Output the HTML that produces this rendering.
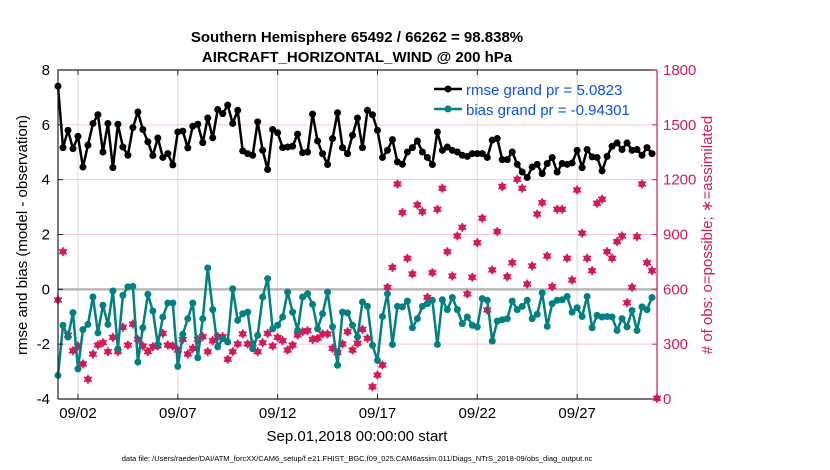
<!DOCTYPE html>
<html><head><meta charset="utf-8"><style>
body{margin:0;background:#fff;}
svg{font-family:"Liberation Sans",sans-serif;display:block;}
</style></head><body>
<svg id="chart" width="830" height="470" viewBox="0 0 830 470" xmlns="http://www.w3.org/2000/svg">
<rect width="830" height="470" fill="#fff"/>
<text x="357" y="42" text-anchor="middle" font-size="15" font-weight="bold">Southern Hemisphere 65492 / 66262 = 98.838%</text>
<text x="357" y="62" text-anchor="middle" font-size="15" font-weight="bold">AIRCRAFT_HORIZONTAL_WIND @ 200 hPa</text>
<g id="grid"></g><g id="marks"></g><g id="axes"></g>
<text transform="translate(27,235) rotate(-90)" text-anchor="middle" font-size="15">rmse and bias (model - observation)</text>
<text transform="translate(712,235) rotate(-90)" text-anchor="middle" font-size="15" fill="#d6195a"># of obs: o=possible; ∗=assimilated</text>
<text x="357" y="441" text-anchor="middle" font-size="15">Sep.01,2018 00:00:00 start</text>
<text x="357" y="461" text-anchor="middle" font-size="7.5">data file: /Users/raeder/DAI/ATM_forcXX/CAM6_setup/f.e21.FHIST_BGC.f09_025.CAM6assim.011/Diags_NTrS_2018-09/obs_diag_output.nc</text>
<g>
<line x1="434" y1="89" x2="462" y2="89" stroke="#000" stroke-width="2.5"/><circle cx="448" cy="89" r="3.5" fill="#000"/>
<text x="466" y="95" font-size="15" fill="#0a50f0">rmse grand pr = 5.0823</text>
<line x1="434" y1="109" x2="462" y2="109" stroke="#008080" stroke-width="2.5"/><circle cx="448" cy="109" r="3.5" fill="#008080"/>
<text x="466" y="115" font-size="15" fill="#0a50f0">bias grand pr = -0.94301</text>
</g>
</svg>
<script>
const rmse=[7.41,5.17,5.80,5.13,5.58,4.46,5.26,6.05,6.37,5.01,6.05,4.44,6.02,5.19,4.89,5.90,6.47,5.83,5.38,4.88,5.52,4.81,4.95,4.54,5.74,5.77,5.16,5.95,6.02,5.35,6.25,5.53,6.56,
6.41,6.72,6.05,6.53,5.05,4.95,4.89,6.11,5.07,4.37,5.83,5.71,5.17,5.19,5.22,5.66,4.98,5.01,6.39,5.41,4.95,4.55,5.50,6.44,5.17,4.95,5.62,6.25,5.17,6.53,6.37,5.80,4.81,
5.07,5.46,4.65,4.56,5.01,5.17,5.41,5.01,4.81,4.55,5.74,5.07,5.19,5.07,5.01,4.89,4.85,4.95,4.95,4.95,4.81,5.44,5.50,4.73,4.73,5.01,4.56,4.28,4.08,4.46,4.56,4.22,4.59,
4.81,4.28,4.59,4.56,4.61,5.07,4.44,5.10,4.83,4.81,4.32,4.85,5.22,5.34,5.10,5.34,5.07,5.10,4.89,5.17,4.95];
const bias=[-3.14,-1.31,-1.74,-0.85,-2.90,-1.47,-1.28,-0.28,-1.59,-0.58,-1.28,-0.06,-2.17,-0.22,0.09,0.11,-2.65,-1.40,-0.18,-0.79,-2.01,-1.01,-0.50,-0.50,-2.81,-1.64,-1.07,-0.50,-2.49,-1.07,0.78,-0.74,-2.10,
-1.80,-1.92,0.02,-1.13,-0.89,-0.83,-2.17,-1.68,-0.28,0.39,-1.44,-1.31,-1.01,-0.10,-0.83,-1.50,-0.28,-0.16,-0.55,-1.44,-0.89,-0.10,-1.37,-2.77,-0.83,-0.86,-1.31,-1.74,-0.46,-0.62,-2.04,-2.59,-0.99,
-0.16,-2.01,-0.62,-0.64,-0.43,-1.40,-1.07,-0.62,-0.52,-0.40,-2.01,-0.38,-0.74,-0.30,-0.74,-1.25,-1.01,-1.31,-1.37,-0.34,-0.40,-1.89,-1.16,-1.11,-1.07,-0.43,-0.74,-0.62,-0.40,-1.07,-0.91,-0.13,-1.35,
-0.52,-0.40,-0.38,-0.26,-0.83,-0.67,-0.99,-0.26,-1.40,-0.95,-1.01,-0.99,-1.01,-1.50,-1.07,-1.37,-0.77,-1.50,-0.64,-0.74,-0.30];
const nobs=[542,806,350,264,290,192,108,246,295,308,259,337,259,392,295,410,326,290,259,286,290,359,295,290,268,326,246,277,326,341,259,319,341,
341,217,259,301,356,301,301,259,308,359,290,337,320,268,295,350,368,374,326,332,356,356,277,254,301,368,268,305,381,332,67,131,186,
611,720,1176,1020,770,684,1062,1025,556,691,1038,1153,806,673,892,939,575,666,855,989,487,706,916,1162,669,746,1202,1153,629,728,1012,1074,782,
615,1038,1038,770,651,1144,907,770,702,1071,1093,806,770,861,892,527,611,888,1176,746,702,4];
const leftTicks=[8,6,4,2,0,-2,-4];
const rightTicks=[1800,1500,1200,900,600,300,0];
const dateTicks=[1,6,11,16,21,26];
const dateLabels=['09/02','09/07','09/12','09/17','09/22','09/27'];
const NS='http://www.w3.org/2000/svg';
const X0=58,X1=657,Y0=399,Y1=70;
const xs=d=>X0+(d/30)*(X1-X0);          // d = days since Sep 1 00:00
const yl=v=>Y0-(v+4)/12*(Y0-Y1);
const yr=v=>Y0-v/1800*(Y0-Y1);
function mk(tag,attrs,parent){const e=document.createElementNS(NS,tag);for(const k in attrs)e.setAttribute(k,attrs[k]);parent.appendChild(e);return e;}
const grid=document.getElementById('grid'),marks=document.getElementById('marks'),axes=document.getElementById('axes');
leftTicks.forEach(v=>{if(v!==0&&v!==8&&v!==-4){const l=mk('line',{x1:X0,x2:X1,y1:yl(v),y2:yl(v),stroke:'#f2c8d8','stroke-width':1},grid);

}});
dateTicks.forEach(d=>{const l=mk('line',{x1:xs(d),x2:xs(d),y1:Y1,y2:Y0,stroke:'#d8d8d8','stroke-width':1},grid);

});
const z=mk('line',{x1:X0,x2:X1,y1:yl(0),y2:yl(0),stroke:'#b8b8b8','stroke-width':2.5},grid);


// obs counts
nobs.forEach((v,i)=>{const g=mk('g',{},marks);


const cx=xs(i*0.25),cy=yr(v);
mk('circle',{cx:cx,cy:cy,r:3.3,fill:'#d6195a'},g);
[[0,4.5],[3.9,2.25],[3.9,-2.25]].forEach(([dx,dy])=>mk('line',{x1:cx-dx,y1:cy-dy,x2:cx+dx,y2:cy+dy,stroke:'#d6195a','stroke-width':1.6},g));});
function series(arr,col,name){
const p=mk('polyline',{points:arr.map((v,i)=>xs(i*0.25)+','+yl(v)).join(' '),fill:'none',stroke:col,'stroke-width':2.5,'stroke-linejoin':'round'},marks);


arr.forEach((v,i)=>{const c=mk('circle',{cx:xs(i*0.25),cy:yl(v),r:3.5,fill:col},marks);

});}
series(bias,'#008080','bias');
series(rmse,'#000000','rmse');
// axes
const box=mk('path',{d:`M${X0},${Y0}V${Y1}H${X1}`,fill:'none',stroke:'#222','stroke-width':1.2},axes);


const bx=mk('line',{x1:X0,x2:X1,y1:Y0,y2:Y0,stroke:'#222','stroke-width':1.2},axes);


const ra=mk('line',{x1:X1,x2:X1,y1:Y1,y2:Y0,stroke:'#d6195a','stroke-width':1.2},axes);


leftTicks.forEach(v=>{mk('line',{x1:X0,x2:X0+5,y1:yl(v),y2:yl(v),stroke:'#222'},axes);
const t=mk('text',{x:X0-8,y:yl(v)+5,'text-anchor':'end','font-size':15},axes);t.textContent=v;

});
rightTicks.forEach(v=>{mk('line',{x1:X1-5,x2:X1,y1:yr(v),y2:yr(v),stroke:'#d6195a'},axes);
const t=mk('text',{x:X1+6,y:yr(v)+5,'font-size':15,fill:'#d6195a'},axes);t.textContent=v;

});
dateTicks.forEach((d,k)=>{mk('line',{x1:xs(d),x2:xs(d),y1:Y0,y2:Y0-5,stroke:'#222'},axes);mk('line',{x1:xs(d),x2:xs(d),y1:Y1,y2:Y1+5,stroke:'#222'},axes);
const t=mk('text',{x:xs(d),y:Y0+19,'text-anchor':'middle','font-size':15},axes);t.textContent=dateLabels[k];

});
</script>
</body></html>
